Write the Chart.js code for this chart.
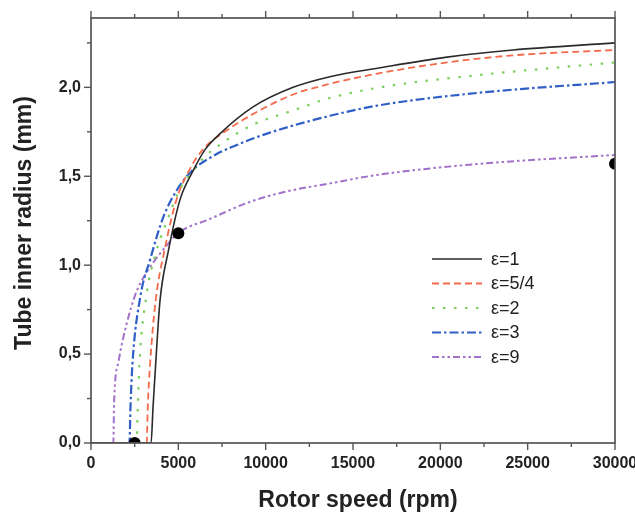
<!DOCTYPE html>
<html>
<head>
<meta charset="utf-8">
<script src="https://cdn.jsdelivr.net/npm/chart.js@4.4.1/dist/chart.umd.min.js"></script>
<style>
  html, body { margin: 0; padding: 0; background: #fff; }
  canvas { display: block; }
</style>
</head>
<body>
<canvas id="chart" width="635" height="519"></canvas>
<script>
// values (rpm -> tube inner radius in mm)
const eps1Rpm = [0, 3440, 3550, 3700, 3950, 4430, 5100, 5840, 6530, 7390, 9280, 11570, 13680, 16550, 20380, 24160, 30000];
const eps1Radius = [0, 0, 0.20, 0.44, 0.80, 1.08, 1.37, 1.53, 1.65, 1.74, 1.89, 2.00, 2.06, 2.11, 2.17, 2.21, 2.25];

const eps54Rpm = [0, 3190, 3250, 3380, 3700, 4200, 4900, 5600, 6400, 7800, 9280, 11570, 13680, 16550, 20380, 24160, 30000];
const eps54Radius = [0, 0, 0.20, 0.44, 0.80, 1.08, 1.37, 1.53, 1.65, 1.76, 1.85, 1.96, 2.02, 2.08, 2.14, 2.18, 2.21];

const eps2Rpm = [0, 2610, 2680, 2770, 3190, 3660, 4430, 5100, 5840, 6410, 7560, 9280, 11570, 13680, 16550, 22270, 30000];
const eps2Radius = [0, 0, 0.20, 0.44, 0.84, 1.05, 1.27, 1.43, 1.53, 1.60, 1.69, 1.79, 1.87, 1.94, 2.00, 2.07, 2.14];

const eps3Rpm = [0, 2200, 2260, 2370, 2820, 3380, 4140, 4900, 5770, 7100, 7960, 10080, 13680, 16550, 22270, 30000];
const eps3Radius = [0, 0, 0.20, 0.44, 0.82, 1.03, 1.27, 1.42, 1.53, 1.62, 1.66, 1.74, 1.84, 1.90, 1.97, 2.03];

const eps9Rpm = [0, 1280, 1320, 1580, 2040, 2560, 3190, 4410, 4980, 6810, 8930, 11000, 13680, 16550, 22270, 30000];
const eps9Radius = [0, 0, 0.22, 0.46, 0.67, 0.84, 0.96, 1.12, 1.18, 1.26, 1.35, 1.41, 1.46, 1.51, 1.57, 1.62];

const markerRpm = [2500, 5000, 30000];
const markerRadius = [0, 1.18, 1.57];

const seriesLabels = ['ε=1', 'ε=5/4', 'ε=2', 'ε=3', 'ε=9'];
const xTitle = 'Rotor speed (rpm)';
const yTitle = 'Tube inner radius (mm)';

const FONT = "'Liberation Sans', Arial, sans-serif";

function points(xs, ys) {
  return xs.map((x, i) => ({ x: x, y: ys[i] }));
}

function curve(label, xs, ys, color, dash, width) {
  return {
    label: label,
    data: points(xs, ys),
    showLine: true,
    borderColor: color,
    backgroundColor: color,
    borderWidth: width,
    borderDash: dash,
    pointRadius: 0,
    cubicInterpolationMode: 'monotone',
    fill: false
  };
}

const frameAndLegend = {
  id: 'frameAndLegend',
  afterDatasetsDraw(chart) {
    const { ctx, chartArea: a, scales } = chart;
    ctx.save();
    ctx.strokeStyle = '#555';
    ctx.lineWidth = 1.7;
    ctx.setLineDash([]);
    ctx.strokeRect(a.left, a.top, a.right - a.left, a.bottom - a.top);

    ctx.lineWidth = 1.4;
    scales.x.ticks.forEach(t => {
      const px = scales.x.getPixelForValue(t.value);
      const len = t.value % 5000 === 0 ? 7 : 4;
      ctx.beginPath();
      ctx.moveTo(px, a.bottom);
      ctx.lineTo(px, a.bottom + len);
      ctx.moveTo(px, a.top);
      ctx.lineTo(px, a.top - len);
      ctx.stroke();
    });
    scales.y.ticks.forEach(t => {
      const py = scales.y.getPixelForValue(t.value);
      const major = Math.abs(t.value * 2 - Math.round(t.value * 2)) < 1e-6;
      const len = major ? 7 : 4;
      ctx.beginPath();
      ctx.moveTo(a.left, py);
      ctx.lineTo(a.left - len, py);
      ctx.stroke();
    });
    ctx.restore();
  },
  afterDraw(chart) {
    const { ctx } = chart;
    ctx.save();
    // legend
    chart.data.datasets.forEach((ds, i) => {
      if (i >= seriesLabels.length) return;
      const y = 259 + i * 24.5;
      ctx.strokeStyle = ds.borderColor;
      ctx.lineWidth = ds.borderWidth;
      ctx.setLineDash(ds.borderDash || []);
      ctx.beginPath();
      ctx.moveTo(432, y);
      ctx.lineTo(482, y);
      ctx.stroke();
      ctx.setLineDash([]);
      ctx.fillStyle = '#222';
      ctx.font = '18px ' + FONT;
      ctx.textAlign = 'left';
      ctx.textBaseline = 'middle';
      ctx.fillText(ds.label, 491, y + 1);
    });
    // axis titles
    ctx.fillStyle = '#222';
    ctx.font = 'bold 23px ' + FONT;
    ctx.textAlign = 'center';
    ctx.textBaseline = 'middle';
    ctx.fillText(xTitle, 358, 501);
    ctx.translate(25, 223);
    ctx.rotate(-Math.PI / 2);
    ctx.fillText(yTitle, 0, 0);
    ctx.restore();
  }
};

new Chart(document.getElementById('chart'), {
  type: 'scatter',
  data: {
    datasets: [
      curve(seriesLabels[0], eps1Rpm, eps1Radius, '#2a2a2a', [], 1.6),
      curve(seriesLabels[1], eps54Rpm, eps54Radius, '#f46a4c', [7, 4], 1.8),
      curve(seriesLabels[2], eps2Rpm, eps2Radius, '#7ccf5c', [2.5, 8.5], 2.2),
      curve(seriesLabels[3], eps3Rpm, eps3Radius, '#2f5fc6', [9, 3, 2.5, 3], 2.2),
      curve(seriesLabels[4], eps9Rpm, eps9Radius, '#a271c9', [7, 3, 2.5, 3, 2.5, 3], 2),
      {
        label: 'markers',
        data: points(markerRpm, markerRadius),
        showLine: false,
        order: -1,
        pointRadius: 6,
        pointBorderWidth: 0,
        pointBackgroundColor: '#000',
        pointBorderColor: '#000'
      }
    ]
  },
  options: {
    responsive: false,
    animation: false,
    layout: { padding: { top: 18, right: 20, left: 0, bottom: 0 } },
    plugins: {
      legend: { display: false },
      tooltip: { enabled: false }
    },
    scales: {
      x: {
        type: 'linear',
        min: 0,
        max: 30000,
        grid: { display: false, drawTicks: false },
        border: { display: false },
        ticks: {
          stepSize: 2500,
          autoSkip: false,
          maxRotation: 0,
          padding: 11,
          color: '#222',
          font: { family: FONT, size: 16, weight: 'bold' },
          callback: v => (v % 5000 === 0 ? String(v) : '')
        },
        afterFit: s => {
          s.height = 76;
          s.paddingLeft = 0;
          s.paddingRight = 0;
        }
      },
      y: {
        type: 'linear',
        min: 0,
        max: 2.39,
        grid: { display: false, drawTicks: false },
        border: { display: false },
        ticks: {
          stepSize: 0.25,
          includeBounds: false,
          autoSkip: false,
          padding: 10,
          color: '#222',
          font: { family: FONT, size: 16, weight: 'bold' },
          callback: v => (Math.abs(v * 2 - Math.round(v * 2)) < 1e-6 ? v.toFixed(1).replace('.', ',') : '')
        },
        afterFit: s => {
          s.width = 91;
          s.paddingTop = 0;
          s.paddingBottom = 0;
        }
      }
    }
  },
  plugins: [frameAndLegend]
});
</script>
</body>
</html>
